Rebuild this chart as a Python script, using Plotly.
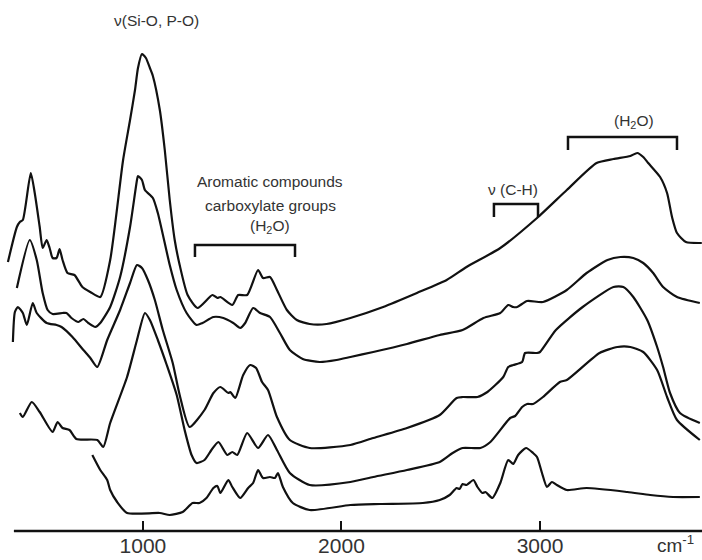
import plotly.graph_objects as go

# Wavenumber (cm-1) and relative absorbance (arbitrary units, stacked/offset)
A_wn = [320,365,380,395,435,455,480,495,515,530,545,565,580,595,620,655,695,735,785,835,900,935,960,975,995,1015,1035,1050,1085,1110,1135,1160,1185,1225,1275,1350,1375,1390,1450,1480,1525,1580,1605,1640,1675,1725,1775,1840,1925,2045,2210,2380,2530,2630,2800,2985,3135,3285,3370,3455,3490,3520,3545,3605,3640,3665,3690,3735,3815]
A_ab = [269,304,309,311,358,338,304,283,291,283,273,273,282,271,258,256,244,239,234,271,371,411,441,463,477,473,463,455,421,381,331,291,266,236,223,236,233,234,226,236,236,261,253,254,241,221,211,207,207,213,224,238,251,264,283,313,341,368,372,375,378,374,368,354,338,314,298,289,288]

B_wn = [365,430,465,495,520,545,595,615,640,675,700,725,760,785,835,885,935,970,975,995,1010,1050,1075,1135,1170,1220,1270,1300,1355,1405,1455,1490,1515,1555,1590,1640,1690,1740,1805,1890,1975,2045,2160,2330,2495,2610,2715,2800,2840,2865,2885,2935,3015,3135,3235,3340,3405,3470,3520,3570,3620,3690,3805]
B_ab = [243,291,271,238,221,217,218,218,213,209,212,208,204,208,224,254,304,351,355,351,341,333,318,266,241,218,206,208,214,213,208,203,208,223,218,214,198,181,172,169,171,174,179,187,196,201,213,218,226,224,224,230,229,241,258,271,274,273,268,258,244,234,228]

C_wn = [345,355,370,395,415,445,465,515,565,590,645,700,735,770,820,885,935,970,995,1025,1060,1100,1150,1185,1235,1310,1355,1390,1430,1440,1465,1505,1540,1570,1600,1630,1675,1740,1840,2045,2160,2330,2495,2580,2610,2685,2735,2815,2840,2865,2910,2925,2985,3000,3080,3215,3370,3420,3470,3540,3590,3620,3655,3705,3805]
C_ab = [189,219,224,218,206,228,218,208,206,204,194,181,173,164,191,221,248,266,263,251,231,201,168,136,104,121,138,144,138,139,133,156,166,163,149,141,114,91,83,86,93,103,116,133,134,134,139,154,164,166,169,178,178,179,201,224,244,244,234,211,184,164,138,118,108]

D_wn = [380,395,440,480,545,570,595,630,665,770,800,835,920,970,1010,1035,1075,1120,1170,1210,1245,1270,1310,1345,1380,1425,1450,1475,1525,1580,1630,1675,1740,1840,2045,2160,2330,2495,2560,2610,2700,2750,2850,2875,2910,2935,2965,3015,3100,3135,3300,3390,3455,3520,3590,3640,3690,3805]
D_ab = [118,114,129,119,99,109,103,101,92,91,84,108,154,191,218,211,191,166,136,101,76,68,71,81,89,76,79,76,98,83,96,81,58,46,49,54,61,69,78,83,83,89,113,115,124,127,127,134,149,151,178,184,184,179,161,134,111,91]

E_wn = [745,785,820,835,870,920,1085,1135,1200,1250,1285,1320,1355,1375,1390,1430,1450,1490,1530,1555,1580,1605,1640,1665,1680,1705,1755,1840,2045,2195,2410,2495,2545,2580,2595,2610,2630,2665,2685,2710,2725,2760,2800,2840,2865,2890,2930,2965,2985,3010,3035,3060,3085,3135,3235,3440,3555,3670,3805]
E_ab = [76,61,51,41,29,18,18,16,19,28,28,33,43,45,38,51,44,33,43,48,61,53,54,53,58,44,28,21,26,27,28,31,36,43,42,47,46,51,44,38,39,33,48,71,67,76,83,78,74,58,44,49,46,41,43,39,36,34,34]

tick_vals = [1000, 2000, 3000]
tick_text = ["1000", "2000", "3000"]

# Band brackets: (start wn, end wn, bracket level, leg level)
brackets = [
    (1262, 1766, 286, 274),
    (2768, 2990, 327, 314),
    (3141, 3690, 394, 381),
]

labels = [
    ("\u03bd(Si-O, P-O)", 1070, 511),
    ("Aromatic compounds", 1640, 350),
    ("carboxylate groups", 1640, 326),
    ("(H<sub>2</sub>O)", 1640, 305),
    ("\u03bd (C-H)", 2865, 342),
    ("(H<sub>2</sub>O)", 3475, 410),
]

FONT = "Liberation Sans, Arial, sans-serif"

fig = go.Figure()
for wn, ab in [(A_wn, A_ab), (B_wn, B_ab), (C_wn, C_ab), (D_wn, D_ab), (E_wn, E_ab)]:
    fig.add_trace(go.Scatter(x=wn, y=ab, mode="lines",
                             line=dict(color="#111111", width=2.2, shape="spline", smoothing=0.6),
                             hoverinfo="skip", showlegend=False))

for x0, x1, top, leg in brackets:
    fig.add_shape(type="path", xref="x", yref="y",
                  path=f"M {x0},{leg} L {x0},{top} L {x1},{top} L {x1},{leg}",
                  line=dict(color="#111111", width=2.5))

for txt, x, y in labels:
    fig.add_annotation(x=x, y=y, xref="x", yref="y", text=txt, showarrow=False,
                       font=dict(family=FONT, size=15.5, color="#333333"))

fig.add_annotation(x=0.99, y=-0.024, xref="paper", yref="paper", xanchor="right",
                   yanchor="middle", text="cm<sup>-1</sup>", borderpad=0,
                   showarrow=False, font=dict(family=FONT, size=19, color="#333333"))

# baseline axis line
fig.add_shape(type="line", xref="x", yref="paper", x0=350, x1=3816, y0=0, y1=0,
              line=dict(color="#111111", width=2.5))

fig.update_layout(
    width=702, height=560,
    margin=dict(l=0, r=0, t=0, b=29),
    paper_bgcolor="white", plot_bgcolor="white",
    xaxis=dict(range=[280, 3816], showgrid=False, zeroline=False, showline=False,
               ticks="inside", ticklen=10, tickwidth=2, tickcolor="#111111",
               tickvals=tick_vals, ticktext=tick_text,
               tickfont=dict(family=FONT, size=21, color="#333333")),
    yaxis=dict(range=[0, 531], visible=False),
)

fig.write_html("out.html")
